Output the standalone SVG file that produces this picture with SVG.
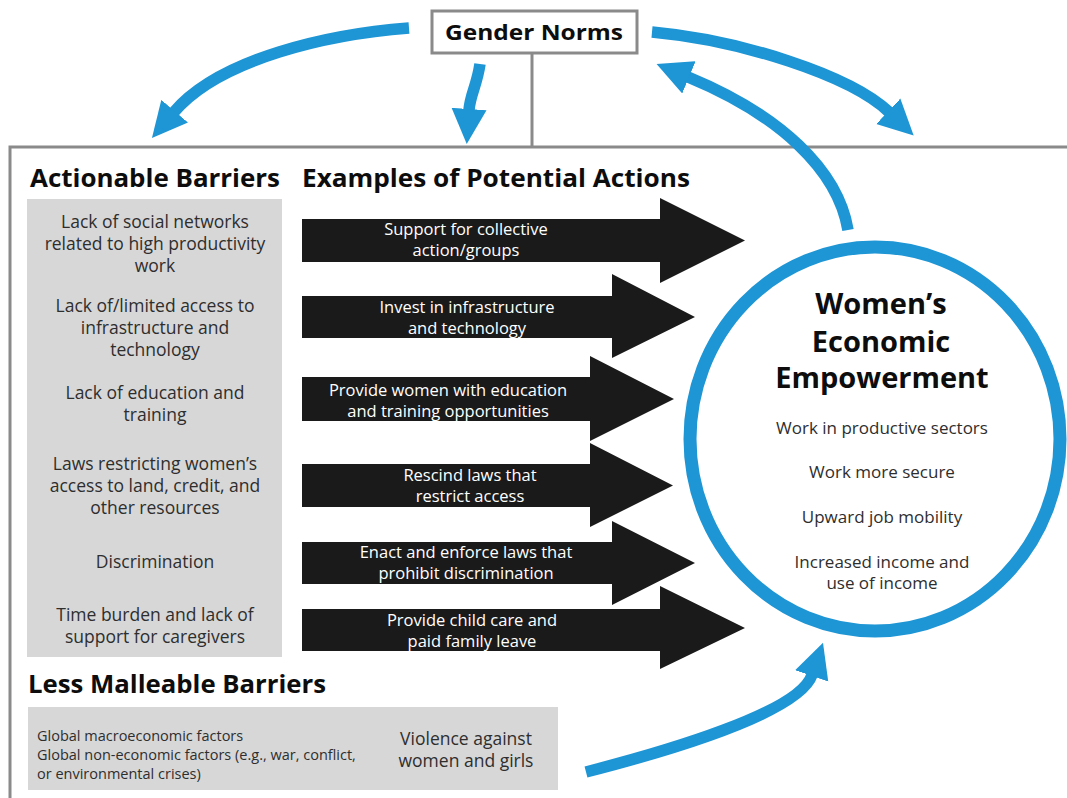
<svg xmlns="http://www.w3.org/2000/svg" width="1067" height="798" viewBox="0 0 1067 798">
<defs>
<style>
text{font-family:"Open Sans","Noto Sans","DejaVu Sans",sans-serif;}
.hdr{font-size:25px;font-weight:700;fill:#0d0d0d;}
.bar{font-size:17.5px;fill:#2e2e2e;text-anchor:middle;}
.act{font-size:16.5px;fill:#ffffff;text-anchor:middle;}
.small{font-size:14.5px;fill:#2e2e2e;}
.wee{font-size:29px;font-weight:700;fill:#0d0d0d;text-anchor:middle;}
.item{font-size:17px;fill:#2e2e2e;text-anchor:middle;}
.frame{fill:none;stroke:#8a8a8a;stroke-width:3;}
.gbox{fill:#d7d7d7;}
.barrow{fill:#1a1a1a;}
.blue{fill:none;stroke:#1e95d4;stroke-width:11.5;marker-end:url(#bh);}
</style>
<marker id="bh" markerUnits="userSpaceOnUse" viewBox="0 -18 36 36" markerWidth="36" markerHeight="36" refX="1" refY="0" orient="auto">
<path d="M0,-17.5 L35,0 L0,17.5 Z" fill="#1e95d4"/>
</marker>
</defs>
<rect width="1067" height="798" fill="#ffffff"/>

<g id="frame">
<path class="frame" d="M10,800 L10,147 L1070,147"/>
<path class="frame" d="M532,54 L532,147"/>
</g>

<g id="gender-norms">
<rect x="432" y="11" width="205" height="42" fill="#ffffff" stroke="#8a8a8a" stroke-width="3"/>
<text x="534" y="40" class="hdr" style="font-size:22px" text-anchor="middle" textLength="178" lengthAdjust="spacingAndGlyphs">Gender Norms</text>
</g>

<g id="actionable-barriers">
<text x="30" y="187" class="hdr" textLength="250" lengthAdjust="spacingAndGlyphs">Actionable Barriers</text>
<rect class="gbox" x="27" y="199" width="255" height="458"/>
<text class="bar" x="155" y="228">Lack of social networks</text>
<text class="bar" x="155" y="250">related to high productivity</text>
<text class="bar" x="155" y="272">work</text>
<text class="bar" x="155" y="312">Lack of/limited access to</text>
<text class="bar" x="155" y="334">infrastructure and</text>
<text class="bar" x="155" y="356">technology</text>
<text class="bar" x="155" y="399">Lack of education and</text>
<text class="bar" x="155" y="421">training</text>
<text class="bar" x="155" y="470">Laws restricting women’s</text>
<text class="bar" x="155" y="492">access to land, credit, and</text>
<text class="bar" x="155" y="514">other resources</text>
<text class="bar" x="155" y="568">Discrimination</text>
<text class="bar" x="155" y="621">Time burden and lack of</text>
<text class="bar" x="155" y="643">support for caregivers</text>
</g>

<g id="potential-actions">
<text x="302" y="187" class="hdr" textLength="388" lengthAdjust="spacingAndGlyphs">Examples of Potential Actions</text>
<g id="action-1">
<polygon class="barrow" points="302,219 660,219 660,198 745,240.5 660,283 660,262 302,262"/>
<text class="act" x="466" y="235">Support for collective</text>
<text class="act" x="466" y="256">action/groups</text>
</g>
<g id="action-2">
<polygon class="barrow" points="302,296 612,296 612,274 695,317 612,358 612,338 302,338"/>
<text class="act" x="467" y="313">Invest in infrastructure</text>
<text class="act" x="467" y="334">and technology</text>
</g>
<g id="action-3">
<polygon class="barrow" points="302,377 590,377 590,356 674,399 590,441 590,421 302,421"/>
<text class="act" x="448" y="396">Provide women with education</text>
<text class="act" x="448" y="417">and training opportunities</text>
</g>
<g id="action-4">
<polygon class="barrow" points="302,464 590,464 590,443 673,485.5 590,527 590,507 302,507"/>
<text class="act" x="470" y="481">Rescind laws that</text>
<text class="act" x="470" y="502">restrict access</text>
</g>
<g id="action-5">
<polygon class="barrow" points="302,542 612,542 612,521 695,563 612,605 612,584 302,584"/>
<text class="act" x="466" y="558">Enact and enforce laws that</text>
<text class="act" x="466" y="579">prohibit discrimination</text>
</g>
<g id="action-6">
<polygon class="barrow" points="302,609 660,609 660,586 745,628 660,669 660,651 302,651"/>
<text class="act" x="472" y="626">Provide child care and</text>
<text class="act" x="472" y="647">paid family leave</text>
</g>
</g>

<g id="less-malleable-barriers">
<text x="28" y="693" class="hdr" textLength="298" lengthAdjust="spacingAndGlyphs">Less Malleable Barriers</text>
<rect class="gbox" x="28" y="707" width="530" height="83"/>
<text class="small" x="37" y="741">Global macroeconomic factors</text>
<text class="small" x="37" y="760">Global non-economic factors (e.g., war, conflict,</text>
<text class="small" x="37" y="779">or environmental crises)</text>
<text class="bar" x="466" y="745">Violence against</text>
<text class="bar" x="466" y="767">women and girls</text>
</g>

<g id="womens-economic-empowerment">
<ellipse cx="875" cy="439" rx="185" ry="192" fill="#ffffff" stroke="#1e95d4" stroke-width="13"/>
<text class="wee" x="881" y="314">Women’s</text>
<text class="wee" x="881" y="352">Economic</text>
<text class="wee" x="882" y="388">Empowerment</text>
<text class="item" x="882" y="434">Work in productive sectors</text>
<text class="item" x="882" y="478">Work more secure</text>
<text class="item" x="882" y="523">Upward job mobility</text>
<text class="item" x="882" y="568">Increased income and</text>
<text class="item" x="882" y="589">use of income</text>
</g>

<g id="connectors">
<path class="blue" d="M409,28 C330,34 220,58 174,112"/>
<path class="blue" d="M480,64 C477,85 470,95 469,110"/>
<path class="blue" d="M652,32 C740,40 850,75 889,112"/>
<path class="blue" d="M848,230 C838,170 780,115 688,77"/>
<path class="blue" d="M586,772 C664,752 799,713 812,675"/>
</g>
</svg>
